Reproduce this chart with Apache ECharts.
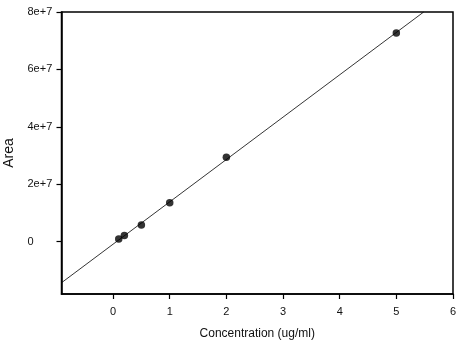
<!DOCTYPE html>
<html>
<head>
<meta charset="utf-8">
<script src="https://cdn.jsdelivr.net/npm/echarts@6/dist/echarts.min.js"></script>
<style>html,body{margin:0;padding:0;background:#fff}#c{width:463px;height:344px}</style>
</head>
<body>
<div id="c"></div>
<script>
const concentrations = [0.1, 0.2, 0.5, 1, 2, 5];
const areas = [0.94e6, 2.2e6, 5.8e6, 13.6e6, 29.4e6, 72.7e6];
const xTicks = [0, 1, 2, 3, 4, 5, 6];
const yTicks = [0, 2e7, 4e7, 6e7, 8e7];
const xRange = [-0.91, 6];
const yRange = [-1.82e7, 8e7];

// least-squares fit
const n = concentrations.length;
const mx = concentrations.reduce((a, b) => a + b, 0) / n;
const my = areas.reduce((a, b) => a + b, 0) / n;
let sxy = 0, sxx = 0;
for (let i = 0; i < n; i++) {
  sxy += (concentrations[i] - mx) * (areas[i] - my);
  sxx += (concentrations[i] - mx) ** 2;
}
const slope = sxy / sxx;
const intercept = my - slope * mx;
const xEnd = Math.min(xRange[1], (yRange[1] - intercept) / slope);
const fitLine = [[xRange[0], intercept + slope * xRange[0]], [xEnd, intercept + slope * xEnd]];

function fmt(v) {
  if (v === 0) return '0';
  const e = Math.floor(Math.log10(Math.abs(v)));
  const m = Math.round(v / Math.pow(10, e) * 100) / 100;
  return m + 'e+' + e;
}

const font = 'Liberation Sans, Arial, sans-serif';
const chart = echarts.init(document.getElementById('c'), null, {renderer: 'canvas'});
chart.setOption({
  animation: false,
  backgroundColor: '#fff',
  grid: {left: 61.5, right: 10, top: 12, bottom: 50, show: true, borderColor: '#000', borderWidth: 1.5,
    containLabel: false, outerBoundsMode: 'none'},
  xAxis: {
    type: 'value', min: xRange[0], max: xRange[1],
    name: 'Concentration (ug/ml)', nameLocation: 'middle', nameGap: 34,
    nameTextStyle: {fontFamily: font, fontSize: 12, color: '#111'},
    axisLine: {show: true, onZero: false, lineStyle: {color: '#000', width: 1.5}},
    axisTick: {show: true, length: 5, customValues: xTicks, lineStyle: {color: '#000', width: 1.2}},
    axisLabel: {customValues: xTicks, fontFamily: font, fontSize: 11, color: '#111', margin: 12},
    splitLine: {show: false}
  },
  yAxis: {
    type: 'value', min: yRange[0], max: yRange[1],
    name: 'Area', nameLocation: 'middle', nameGap: 44,
    nameTextStyle: {fontFamily: font, fontSize: 14, color: '#111'},
    axisLine: {show: true, onZero: false, lineStyle: {color: '#000', width: 1.5}},
    axisTick: {show: true, length: 5, customValues: yTicks, lineStyle: {color: '#000', width: 1.2}},
    axisLabel: {customValues: yTicks, fontFamily: font, fontSize: 11, color: '#111', align: 'left', margin: 34,
      formatter: fmt},
    splitLine: {show: false}
  },
  series: [
    {
      type: 'line', data: fitLine, showSymbol: false, symbol: 'none', clip: true,
      lineStyle: {color: '#000', width: 0.8}, silent: true
    },
    {
      type: 'scatter', data: concentrations.map((c, i) => [c, areas[i]]),
      symbol: 'circle', symbolSize: 7.5, itemStyle: {color: '#000'}
    }
  ]
});
</script>
</body>
</html>
